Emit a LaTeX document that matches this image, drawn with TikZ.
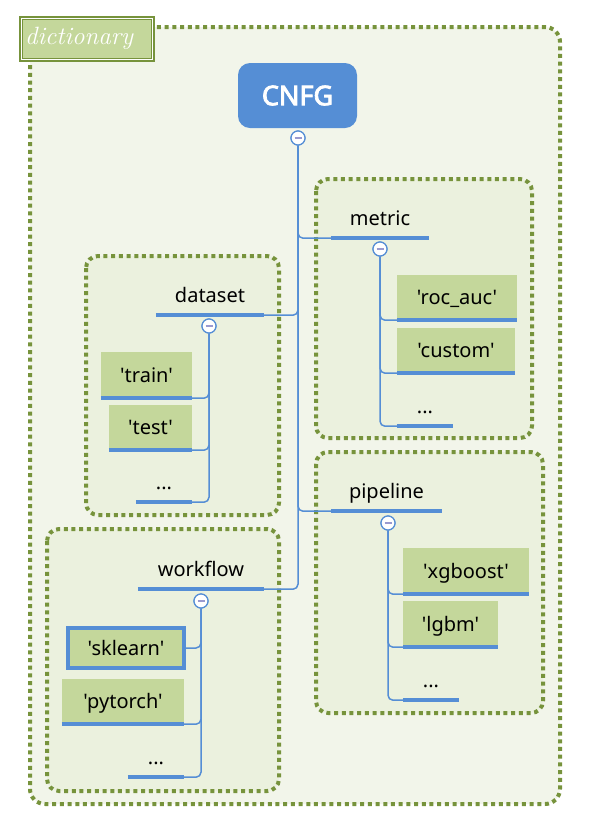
\documentclass[tikz,border=0pt]{standalone}
\usepackage{fontspec}
\newfontfamily\nsans[Ligatures=TeXOff]{Noto Sans}
\newfontfamily\nsansb[Ligatures=TeXOff,FakeBold=3]{Noto Sans}
\definecolor{cblue}{HTML}{558ED5}
\definecolor{boxgreen}{HTML}{C4D79B}
\definecolor{gfill}{HTML}{EBF1DE}
\definecolor{ofill}{HTML}{F2F5EA}
\definecolor{dgreen}{HTML}{77933C}
\definecolor{minusc}{HTML}{9A9ACF}
\begin{document}
\begin{tikzpicture}[x=1pt,y=-1pt,
  grp/.style={draw=dgreen, fill=gfill, line width=4pt, dash pattern=on 4pt off 3.7pt, rounded corners=12pt},
  conn/.style={draw=cblue, line width=1.5pt, rounded corners=5pt},
  uline/.style={draw=cblue, line width=4.5pt},
  head/.style={inner sep=0pt, minimum height=36pt, text height=14pt, text depth=4pt,
    font=\nsans\fontsize{20}{24}\selectfont},
  item/.style={fill=boxgreen, inner sep=0pt, text height=15pt, text depth=1pt,
    font=\nsans\fontsize{20}{24}\selectfont},
  coll/.style={circle, draw=cblue, fill=white, line width=1.2pt, minimum size=14pt, inner sep=0pt},
]
\useasboundingbox (0,0) rectangle (594,823);
% outer dictionary box
\path[draw=dgreen, fill=ofill, line width=4pt, dash pattern=on 4pt off 3.7pt, rounded corners=15pt]
  (30,27) rectangle (560,804);
% group boxes
\path[grp] (316,179) rectangle (532,438);
\path[grp] (86,256) rectangle (279,515);
\path[grp] (316,452) rectangle (543,713);
\path[grp] (47,529) rectangle (279,791);
% dictionary label
\node[draw=dgreen, fill=boxgreen, line width=4pt, minimum width=132pt, minimum height=41.5pt, inner sep=0pt] (dict) at (87,38.75) {};
\draw[white, line width=1pt] ([shift={(2.5pt,2.5pt)}]dict.south west) rectangle ([shift={(-2.5pt,-2.5pt)}]dict.north east);
\node[text=white, font=\fontsize{25}{28}\selectfont\itshape, anchor=base west, inner sep=0pt] (dicttext) at (25,44.5) {dictionary};
% root
\node[fill=cblue, rounded corners=12pt, minimum width=119pt, minimum height=65pt, inner sep=0pt,
  text=white, font=\nsansb\fontsize{27}{30}\selectfont] (cnfg) at (297.5,95.5) {CNFG};
\node[coll] (c0) at (298,138) {};
% headers
\node[head, minimum width=98pt] (metric) at (380,220) {metric};
\node[head, minimum width=108pt] (dataset) at (210,297) {dataset};
\node[head, minimum width=111pt] (pipeline) at (386.5,493) {pipeline};
\node[head, minimum width=126pt] (workflow) at (201,571) {workflow};
% collapse circles
\node[coll] (mc) at (380,249) {};
\node[coll] (dc) at (209,326) {};
\node[coll] (pc) at (388,523) {};
\node[coll] (wc) at (201,601) {};
% items
\node[item, minimum width=120pt, minimum height=45pt] (rocauc) at (457,297.5) {'roc\_auc'};
\node[item, minimum width=118pt, minimum height=45pt] (custom) at (456,350.5) {'custom'};
\node[head, minimum width=56pt] (mdots) at (425,408) {...};
\node[item, minimum width=91pt, minimum height=46pt] (train) at (146.5,375) {'train'};
\node[item, minimum width=83pt, minimum height=45pt] (test) at (150.5,427.5) {'test'};
\node[head, minimum width=56pt] (ddots) at (164,484) {...};
\node[item, minimum width=126pt, minimum height=46pt] (xgboost) at (466,571) {'xgboost'};
\node[item, minimum width=95pt, minimum height=46pt] (lgbm) at (450.5,624) {'lgbm'};
\node[head, minimum width=56pt] (pdots) at (431,682) {...};
\node[item, draw=cblue, line width=4pt, minimum width=116pt, minimum height=40pt] (sklearn) at (126,648) {'sklearn'};
\node[item, minimum width=122pt, minimum height=45pt] (pytorch) at (123,701.5) {'pytorch'};
\node[head, minimum width=56pt] (wdots) at (156,759) {...};
% connectors
\draw[conn] (c0) |- (metric.south west);
\draw[conn] (c0) |- (dataset.south east);
\draw[conn] (c0) |- (pipeline.south west);
\draw[conn] (c0) |- (workflow.south east);
\draw[conn] (mc) |- (rocauc.south west);
\draw[conn] (mc) |- (custom.south west);
\draw[conn] (mc) |- (mdots.south west);
\draw[conn] (dc) |- (train.south east);
\draw[conn] (dc) |- (test.south east);
\draw[conn] (dc) |- (ddots.south east);
\draw[conn] (pc) |- (xgboost.south west);
\draw[conn] (pc) |- (lgbm.south west);
\draw[conn] (pc) |- (pdots.south west);
\draw[conn] (wc) |- (sklearn.east);
\draw[conn] (wc) |- (pytorch.south east);
\draw[conn] (wc) |- (wdots.south east);
% underlines
\foreach \n in {metric,dataset,pipeline,workflow,rocauc,custom,mdots,train,test,ddots,xgboost,lgbm,pdots,pytorch,wdots}
  \draw[uline] (\n.south west) -- (\n.south east);
% circles on top with minus signs
\foreach \n in {c0,mc,dc,pc,wc}
  \node[coll] at (\n) {\textcolor{minusc}{\rule[-0.75pt]{7pt}{1.5pt}}};
\end{tikzpicture}
\end{document}
